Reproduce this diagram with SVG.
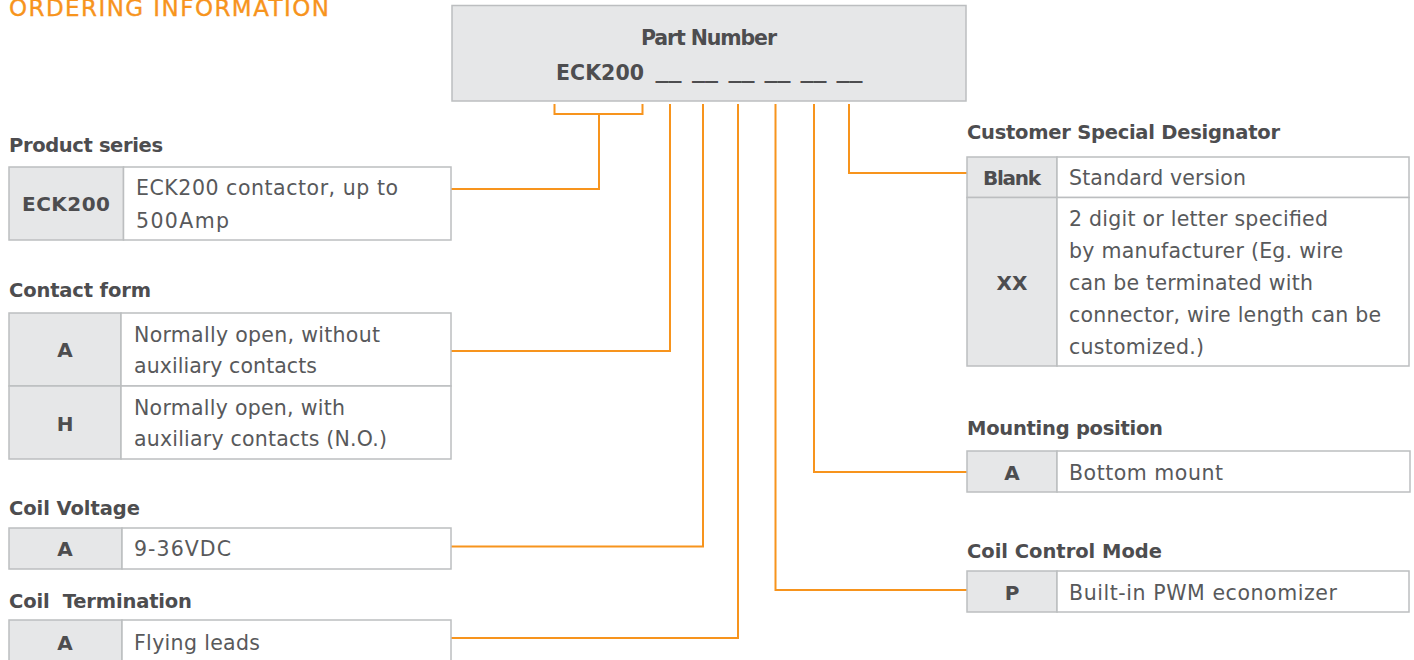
<svg xmlns="http://www.w3.org/2000/svg" width="1414" height="660" viewBox="0 0 1414 660">
<style>
.bg{fill:#ffffff}
.title{font-family:"DejaVu Sans",sans-serif;font-size:23px;fill:#F7941D;stroke:#F7941D;stroke-width:0.35}
.lbl{font-family:"DejaVu Sans",sans-serif;font-size:19.5px;font-weight:bold;fill:#4D4D4F}
.key{font-family:"DejaVu Sans",sans-serif;font-size:20px;font-weight:bold;fill:#4D4D4F;text-anchor:middle}
.txt{font-family:"DejaVu Sans",sans-serif;font-size:20.5px;fill:#58595B}
.hdr{font-family:"DejaVu Sans",sans-serif;font-size:20.5px;font-weight:bold;fill:#4D4D4F}
.pnbox{fill:#E6E7E8;stroke:#BCBEC0;stroke-width:1.5}
.kc{fill:#E6E7E8;stroke:#BCBEC0;stroke-width:1.5}
.vc{fill:#FFFFFF;stroke:#BCBEC0;stroke-width:1.5}
.conn{fill:none;stroke:#F7941D;stroke-width:2}
</style>
<rect class="bg" x="0" y="0" width="1414" height="660"/>
<text class="title" x="9" y="15.5" textLength="320">ORDERING INFORMATION</text>

<g id="part-number">
<rect class="pnbox" x="452" y="5.5" width="514" height="95.5"/>
<text class="hdr" x="709" y="45" text-anchor="middle" textLength="136">Part Number</text>
<text class="hdr" x="556" y="80" textLength="88">ECK200</text>
<text class="hdr" x="655.5" y="78" textLength="26" lengthAdjust="spacingAndGlyphs">__</text>
<text class="hdr" x="692" y="78" textLength="26" lengthAdjust="spacingAndGlyphs">__</text>
<text class="hdr" x="728.5" y="78" textLength="26" lengthAdjust="spacingAndGlyphs">__</text>
<text class="hdr" x="764.5" y="78" textLength="26" lengthAdjust="spacingAndGlyphs">__</text>
<text class="hdr" x="800.5" y="78" textLength="26" lengthAdjust="spacingAndGlyphs">__</text>
<text class="hdr" x="836.5" y="78" textLength="26" lengthAdjust="spacingAndGlyphs">__</text>
</g>

<g id="connectors">
<path class="conn" d="M554.5,104 V114 H642.5 V104"/>
<path class="conn" d="M599,114 V189 H451"/>
<path class="conn" d="M670,104 V351 H451"/>
<path class="conn" d="M703,104 V546.5 H451"/>
<path class="conn" d="M738,104 V638 H451"/>
<path class="conn" d="M775.5,104 V590 H967"/>
<path class="conn" d="M814,104 V472 H967"/>
<path class="conn" d="M849,104 V173 H967"/>
</g>

<g id="product-series">
<text class="lbl" x="9" y="152" textLength="154">Product series</text>
<rect class="kc" x="9" y="167" width="114.5" height="73"/>
<rect class="vc" x="123.5" y="167" width="327.5" height="73"/>
<text class="key" x="66" y="211" textLength="88">ECK200</text>
<text class="txt" x="136" y="195" textLength="262">ECK200 contactor, up to</text>
<text class="txt" x="136" y="228" textLength="93">500Amp</text>
</g>

<g id="contact-form">
<text class="lbl" x="9" y="297" textLength="142">Contact form</text>
<rect class="kc" x="9" y="313" width="112" height="73"/>
<rect class="vc" x="121" y="313" width="330" height="73"/>
<rect class="kc" x="9" y="386" width="112" height="73"/>
<rect class="vc" x="121" y="386" width="330" height="73"/>
<text class="key" x="65" y="357">A</text>
<text class="txt" x="134" y="341.5" textLength="246">Normally open, without</text>
<text class="txt" x="134" y="373" textLength="183">auxiliary contacts</text>
<text class="key" x="65" y="430.5">H</text>
<text class="txt" x="134" y="415" textLength="211">Normally open, with</text>
<text class="txt" x="134" y="446" textLength="253">auxiliary contacts (N.O.)</text>
</g>

<g id="coil-voltage">
<text class="lbl" x="9" y="515" textLength="131">Coil Voltage</text>
<rect class="kc" x="9" y="528" width="113" height="41"/>
<rect class="vc" x="122" y="528" width="329" height="41"/>
<text class="key" x="65" y="556">A</text>
<text class="txt" x="134" y="556" textLength="97">9-36VDC</text>
</g>

<g id="coil-termination">
<text class="lbl" x="9" y="608" textLength="183" xml:space="preserve">Coil  Termination</text>
<rect class="kc" x="9" y="620" width="113" height="44"/>
<rect class="vc" x="122" y="620" width="329" height="44"/>
<text class="key" x="65" y="650">A</text>
<text class="txt" x="134" y="650" textLength="126">Flying leads</text>
</g>

<g id="customer-special-designator">
<text class="lbl" x="967" y="138.5" textLength="313">Customer Special Designator</text>
<rect class="kc" x="967" y="157" width="90" height="40.5"/>
<rect class="vc" x="1057" y="157" width="352" height="40.5"/>
<rect class="kc" x="967" y="197.5" width="90" height="168.5"/>
<rect class="vc" x="1057" y="197.5" width="352" height="168.5"/>
<text class="key" x="1012" y="184.5" textLength="58">Blank</text>
<text class="txt" x="1069" y="184.5" textLength="177">Standard version</text>
<text class="key" x="1012" y="290" textLength="31">XX</text>
<text class="txt" x="1069" y="225.5" textLength="259">2 digit or letter specified</text>
<text class="txt" x="1069" y="257.5" textLength="274">by manufacturer (Eg. wire</text>
<text class="txt" x="1069" y="289.5" textLength="244">can be terminated with</text>
<text class="txt" x="1069" y="321.5" textLength="312">connector, wire length can be</text>
<text class="txt" x="1069" y="353.5" textLength="135">customized.)</text>
</g>

<g id="mounting-position">
<text class="lbl" x="967" y="435" textLength="196">Mounting position</text>
<rect class="kc" x="967" y="451" width="90" height="41"/>
<rect class="vc" x="1057" y="451" width="353" height="41"/>
<text class="key" x="1012" y="480">A</text>
<text class="txt" x="1069" y="480" textLength="154">Bottom mount</text>
</g>

<g id="coil-control-mode">
<text class="lbl" x="967" y="558" textLength="195">Coil Control Mode</text>
<rect class="kc" x="967" y="571" width="90" height="41"/>
<rect class="vc" x="1057" y="571" width="352" height="41"/>
<text class="key" x="1012" y="600">P</text>
<text class="txt" x="1069" y="600" textLength="268">Built-in PWM economizer</text>
</g>
</svg>
